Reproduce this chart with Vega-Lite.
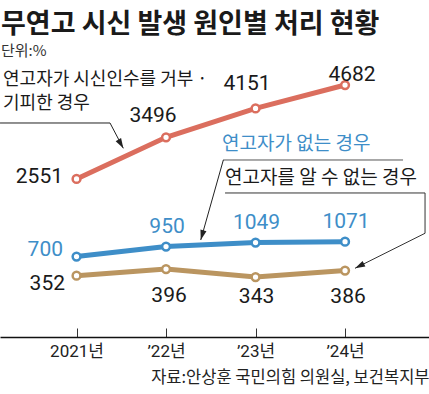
{
  "$schema": "https://vega.github.io/schema/vega-lite/v6.json",
  "width": 429,
  "height": 277,
  "autosize": "none",
  "padding": {"top": 60, "bottom": 57, "left": 0, "right": 0},
  "background": "white",
  "config": {"view": {"stroke": null}},
  "title": {
    "text": "무연고 시신 발생 원인별 처리 현황",
    "subtitle": "단위:%",
    "anchor": "start",
    "frame": "group",
    "font": "Noto Sans CJK KR",
    "fontSize": 27,
    "fontWeight": "bold",
    "color": "#1a1a1a",
    "subtitleFont": "Noto Sans CJK KR",
    "subtitleFontSize": 15,
    "subtitleColor": "#333333",
    "subtitlePadding": 5,
    "offset": 0,
    "dx": 1
  },
  "data": {
    "values": [
      {"year": 2021, "series": "연고자가 시신인수를 거부 · 기피한 경우", "value": 2551},
      {"year": 2022, "series": "연고자가 시신인수를 거부 · 기피한 경우", "value": 3496},
      {"year": 2023, "series": "연고자가 시신인수를 거부 · 기피한 경우", "value": 4151},
      {"year": 2024, "series": "연고자가 시신인수를 거부 · 기피한 경우", "value": 4682},
      {"year": 2021, "series": "연고자가 없는 경우", "value": 700},
      {"year": 2022, "series": "연고자가 없는 경우", "value": 950},
      {"year": 2023, "series": "연고자가 없는 경우", "value": 1049},
      {"year": 2024, "series": "연고자가 없는 경우", "value": 1071},
      {"year": 2021, "series": "연고자를 알 수 없는 경우", "value": 352},
      {"year": 2022, "series": "연고자를 알 수 없는 경우", "value": 396},
      {"year": 2023, "series": "연고자를 알 수 없는 경우", "value": 343},
      {"year": 2024, "series": "연고자를 알 수 없는 경우", "value": 386}
    ]
  },
  "encoding": {
    "x": {
      "field": "year",
      "type": "quantitative",
      "scale": {"domain": [2020.145, 2024.938], "nice": false, "zero": false},
      "axis": {
        "values": [2021, 2022, 2023, 2024],
        "labelExpr": "datum.value == 2021 ? '2021년' : '’' + (datum.value - 2000) + '년'",
        "grid": false,
        "domainColor": "#111111",
        "domainWidth": 1.5,
        "tickColor": "#333333",
        "tickSize": -9,
        "tickWidth": 1,
        "labelFont": "Roboto, Noto Sans CJK KR, sans-serif",
        "labelFontSize": 17,
        "labelColor": "#222222",
        "labelPadding": 15,
        "labelFlush": false,
        "title": "자료:안상훈 국민의힘 의원실, 보건복지부",
        "titleAnchor": "end",
        "titleAlign": "right",
        "titleFont": "Noto Sans CJK KR",
        "titleFontSize": 16.5,
        "titleFontWeight": "normal",
        "titleColor": "#222222",
        "titlePadding": 10
      }
    }
  },
  "resolve": {"scale": {"y": "independent"}},
  "layer": [
    {
      "transform": [{"filter": "datum.series == '연고자가 시신인수를 거부 · 기피한 경우'"}],
      "encoding": {
        "y": {"field": "value", "type": "quantitative", "scale": {"domain": [-1031.5, 5249.1], "nice": false, "zero": false}, "axis": null}
      },
      "layer": [
        {"mark": {"type": "line", "color": "#DB6E5E", "strokeWidth": 5}},
        {"mark": {"type": "point", "shape": "circle", "filled": true, "fill": "white", "stroke": "#DB6E5E", "strokeWidth": 2.5, "size": 60, "opacity": 1}},
        {"transform": [{"filter": "datum.year == 2021"}], "mark": {"type": "text", "align": "right", "baseline": "middle", "dx": -13.5, "dy": -2, "font": "Roboto, sans-serif", "fontSize": 21, "color": "#1a1a1a"}, "encoding": {"text": {"field": "value"}}},
        {"transform": [{"filter": "datum.year == 2022"}], "mark": {"type": "text", "align": "center", "baseline": "middle", "dx": -13, "dy": -21, "font": "Roboto, sans-serif", "fontSize": 21, "color": "#1a1a1a"}, "encoding": {"text": {"field": "value"}}},
        {"transform": [{"filter": "datum.year == 2023"}], "mark": {"type": "text", "align": "center", "baseline": "middle", "dx": -8.5, "dy": -24, "font": "Roboto, sans-serif", "fontSize": 21, "color": "#1a1a1a"}, "encoding": {"text": {"field": "value"}}},
        {"transform": [{"filter": "datum.year == 2024"}], "mark": {"type": "text", "align": "center", "baseline": "middle", "dx": 7, "dy": -10, "font": "Roboto, sans-serif", "fontSize": 21, "color": "#1a1a1a"}, "encoding": {"text": {"field": "value"}}},
        {"transform": [{"filter": "datum.year == 2021"}], "mark": {"type": "text", "text": ["연고자가 시신인수를 거부 ·", "기피한 경우"], "align": "left", "baseline": "top", "dx": -73.5, "dy": -108, "lineHeight": 24, "font": "Noto Sans CJK KR", "fontSize": 18, "color": "#1a1a1a"}},
        {"transform": [{"filter": "datum.year == 2021"}], "mark": {"type": "rule", "color": "#222222", "strokeWidth": 1, "xOffset": -76.5, "x2Offset": 33.5, "yOffset": -56, "y2Offset": -56}, "encoding": {"x2": {"field": "year"}, "y2": {"field": "value"}}},
        {"transform": [{"filter": "datum.year == 2021"}], "mark": {"type": "rule", "color": "#222222", "strokeWidth": 1, "xOffset": 33.5, "x2Offset": 46.8, "yOffset": -56, "y2Offset": -30.7}, "encoding": {"x2": {"field": "year"}, "y2": {"field": "value"}}},
        {"transform": [{"filter": "datum.year == 2021"}], "mark": {"type": "point", "shape": "M0,0L-0.5,-1.6L0.5,-1.6Z", "filled": true, "color": "#222222", "opacity": 1, "size": 156, "angle": 330.3, "xOffset": 46.8, "yOffset": -30.7}}
      ]
    },
    {
      "transform": [{"filter": "datum.series == '연고자가 없는 경우'"}],
      "encoding": {
        "y": {"field": "value", "type": "quantitative", "scale": {"domain": [-1318.8, 5628.2], "nice": false, "zero": false}, "axis": null}
      },
      "layer": [
        {"mark": {"type": "line", "color": "#3E8EC8", "strokeWidth": 5}},
        {"mark": {"type": "point", "shape": "circle", "filled": true, "fill": "white", "stroke": "#3E8EC8", "strokeWidth": 2.5, "size": 60, "opacity": 1}},
        {"transform": [{"filter": "datum.year == 2021"}], "mark": {"type": "text", "align": "right", "baseline": "middle", "dx": -13.5, "dy": -6.5, "font": "Roboto, sans-serif", "fontSize": 21, "color": "#3E8EC8"}, "encoding": {"text": {"field": "value"}}},
        {"transform": [{"filter": "datum.year > 2021"}], "mark": {"type": "text", "align": "center", "baseline": "middle", "dx": 1, "dy": -20, "font": "Roboto, sans-serif", "fontSize": 21, "color": "#3E8EC8"}, "encoding": {"text": {"field": "value"}}},
        {"transform": [{"filter": "datum.year == 2023"}], "mark": {"type": "text", "align": "left", "baseline": "middle", "dx": -33.5, "dy": -98.6, "font": "Noto Sans CJK KR", "fontSize": 19, "color": "#3E8EC8"}, "encoding": {"text": {"field": "series"}}},
        {"transform": [{"filter": "datum.year == 2023"}], "mark": {"type": "rule", "color": "#555555", "strokeWidth": 1, "xOffset": -32.5, "x2Offset": 147.5, "yOffset": -82.6, "y2Offset": -82.6}, "encoding": {"x2": {"field": "year"}, "y2": {"field": "value"}}},
        {"transform": [{"filter": "datum.year == 2023"}], "mark": {"type": "rule", "color": "#222222", "strokeWidth": 1, "xOffset": -32.2, "x2Offset": -54.8, "yOffset": -82.6, "y2Offset": -2.6}, "encoding": {"x2": {"field": "year"}, "y2": {"field": "value"}}},
        {"transform": [{"filter": "datum.year == 2023"}], "mark": {"type": "point", "shape": "M0,0L-0.5,-1.6L0.5,-1.6Z", "filled": true, "color": "#222222", "opacity": 1, "size": 156, "angle": 15.8, "xOffset": -54.8, "yOffset": -2.6}}
      ]
    },
    {
      "transform": [{"filter": "datum.series == '연고자를 알 수 없는 경우'"}],
      "encoding": {
        "y": {"field": "value", "type": "quantitative", "scale": {"domain": [-52.2, 1775.3], "nice": false, "zero": false}, "axis": null}
      },
      "layer": [
        {"mark": {"type": "line", "color": "#BA9560", "strokeWidth": 5}},
        {"mark": {"type": "point", "shape": "circle", "filled": true, "fill": "white", "stroke": "#BA9560", "strokeWidth": 2.5, "size": 60, "opacity": 1}},
        {"transform": [{"filter": "datum.year == 2021"}], "mark": {"type": "text", "align": "right", "baseline": "middle", "dx": -11.5, "dy": 8, "font": "Roboto, sans-serif", "fontSize": 21, "color": "#1a1a1a"}, "encoding": {"text": {"field": "value"}}},
        {"transform": [{"filter": "datum.year == 2022 || datum.year == 2024"}], "mark": {"type": "text", "align": "center", "baseline": "middle", "dx": 3, "dy": 26.5, "font": "Roboto, sans-serif", "fontSize": 21, "color": "#1a1a1a"}, "encoding": {"text": {"field": "value"}}},
        {"transform": [{"filter": "datum.year == 2023"}], "mark": {"type": "text", "align": "center", "baseline": "middle", "dx": 1, "dy": 19.5, "font": "Roboto, sans-serif", "fontSize": 21, "color": "#1a1a1a"}, "encoding": {"text": {"field": "value"}}},
        {"transform": [{"filter": "datum.year == 2024"}], "mark": {"type": "text", "align": "left", "baseline": "middle", "dx": -120, "dy": -92.6, "font": "Noto Sans CJK KR", "fontSize": 19, "color": "#1a1a1a"}, "encoding": {"text": {"field": "series"}}},
        {"transform": [{"filter": "datum.year == 2024"}], "mark": {"type": "rule", "color": "#333333", "strokeWidth": 1, "xOffset": -120, "x2Offset": 80, "yOffset": -77.6, "y2Offset": -77.6}, "encoding": {"x2": {"field": "year"}, "y2": {"field": "value"}}},
        {"transform": [{"filter": "datum.year == 2024"}], "mark": {"type": "rule", "color": "#333333", "strokeWidth": 1, "xOffset": 80, "x2Offset": 80, "yOffset": -77.6, "y2Offset": -37.3}, "encoding": {"x2": {"field": "year"}, "y2": {"field": "value"}}},
        {"transform": [{"filter": "datum.year == 2024"}], "mark": {"type": "rule", "color": "#333333", "strokeWidth": 1, "xOffset": 80, "x2Offset": 10, "yOffset": -37.3, "y2Offset": -2.3}, "encoding": {"x2": {"field": "year"}, "y2": {"field": "value"}}},
        {"transform": [{"filter": "datum.year == 2024"}], "mark": {"type": "point", "shape": "M0,0L-0.5,-1.6L0.5,-1.6Z", "filled": true, "color": "#222222", "opacity": 1, "size": 156, "angle": 63.4, "xOffset": 10, "yOffset": -2.3}}
      ]
    }
  ]
}
